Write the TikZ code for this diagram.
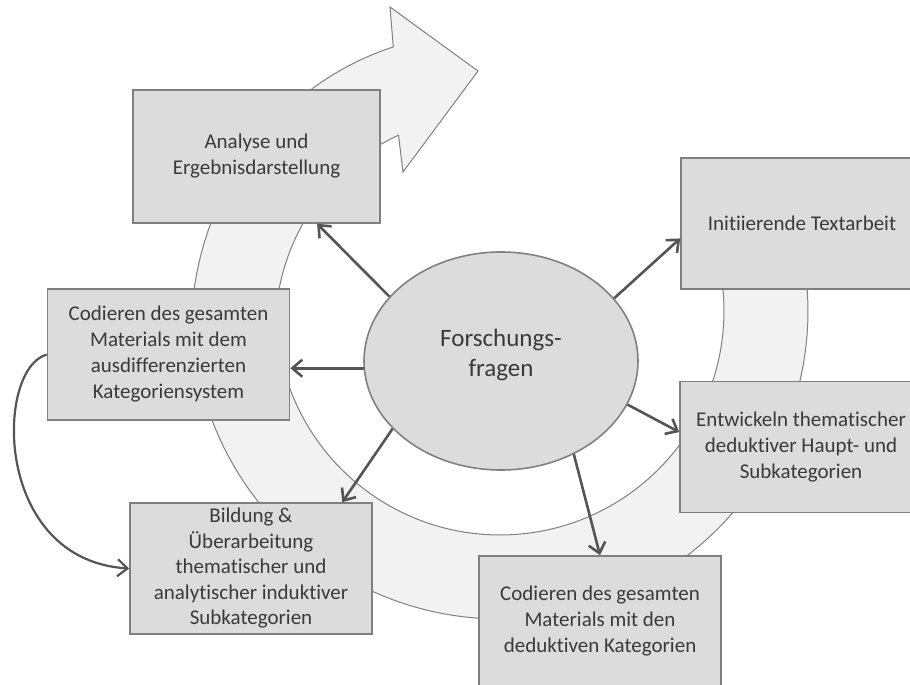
\documentclass[tikz,border=0pt]{standalone}
\usepackage{fontspec}
\setmainfont{Carlito}[Ligatures=NoCommon]
\usepackage{xcolor}
\usetikzlibrary{arrows.meta, shapes.geometric}

\definecolor{ringfill}{HTML}{F2F2F2}
\definecolor{boxfill}{HTML}{DCDCDC}
\definecolor{edgegray}{HTML}{808080}
\definecolor{arrowgray}{HTML}{555555}
\definecolor{textgray}{HTML}{3A3A3A}

\begin{document}
\begin{tikzpicture}[x=0.5pt, y=-0.5pt, line width=0.6pt,
  stepbox/.style={draw=edgegray, fill=boxfill, line width=0.8pt, minimum width=121pt,
    minimum height=65.5pt, inner sep=1pt, align=center, text=textgray,
    font=\fontsize{10.5}{13}\selectfont},
  flow/.style={-{Straight Barb[length=5pt, width=8.5pt]}, arrowgray, line width=1.3pt}]
  \useasboundingbox (0,0) rectangle (910,685);
  \clip (0,0) rectangle (910,685);

  % band round the questions, ends in the big arrow at the top
  \draw[edgegray, fill=ringfill, line width=0.5pt]
    plot[domain=25:-248, samples=140, variable=\t]
      ({500+(308-0.34*max(0,-180-(\t)))*cos(\t)}, {311-(308-0.34*max(0,-180-(\t)))*sin(\t)})
    -- (390,7) -- (478,71) -- (403,172)
    -- plot[domain=-240:25, samples=140, variable=\t]
      ({500+(224-0.35*max(0,-180-(\t)))*cos(\t)}, {311-(224-0.35*max(0,-180-(\t)))*sin(\t)})
    -- cycle;

  \node[stepbox, minimum width=123.5pt, minimum height=66.5pt] (ana) at (256.5,156.5) {Analyse und\\Ergebnisdarstellung};
  \node[stepbox] (init) at (802,223.5) {Initiierende Textarbeit};
  \node[stepbox] (cod1) at (168.5,354.5) {Codieren des gesamten\\Materials mit dem\\ausdifferenzierten\\Kategoriensystem};
  \node[stepbox] (entw) at (801,447) {Entwickeln thematischer\\deduktiver Haupt- und\\Subkategorien};
  \node[stepbox, font=\fontsize{10.5}{12.75}\selectfont] (bild) at (251,568.5) {Bildung \&\\Überarbeitung\\thematischer und\\analytischer induktiver\\Subkategorien};
  \node[stepbox] (dedcod) at (600,621.5) {Codieren des gesamten\\Materials mit den\\deduktiven Kategorien};

  \node[ellipse, draw=edgegray, fill=boxfill, line width=0.8pt, minimum width=137pt,
    minimum height=109pt, inner sep=0pt, align=center, text=textgray,
    font=\fontsize{12.5}{15}\selectfont] (fq) at (501,361) {Forschungs-\\fragen\\[-7pt]};

  \draw[flow] (fq.150) -- (ana.-48);
  \draw[flow] (fq.183) -- (fq.183 -| cod1.east);
  \draw[flow] (fq.212) -- (bild.36);
  \draw[flow] (fq.-52) -- (dedcod.north);
  \draw[flow] (fq.-19) -- (entw.173.5);
  \draw[flow] (fq.29) -- (init.187);
  \draw[flow, line width=1.1pt] (cod1.west) .. controls +(-52,15) and +(-136,-8.5) .. (bild.west);
\end{tikzpicture}
\end{document}
